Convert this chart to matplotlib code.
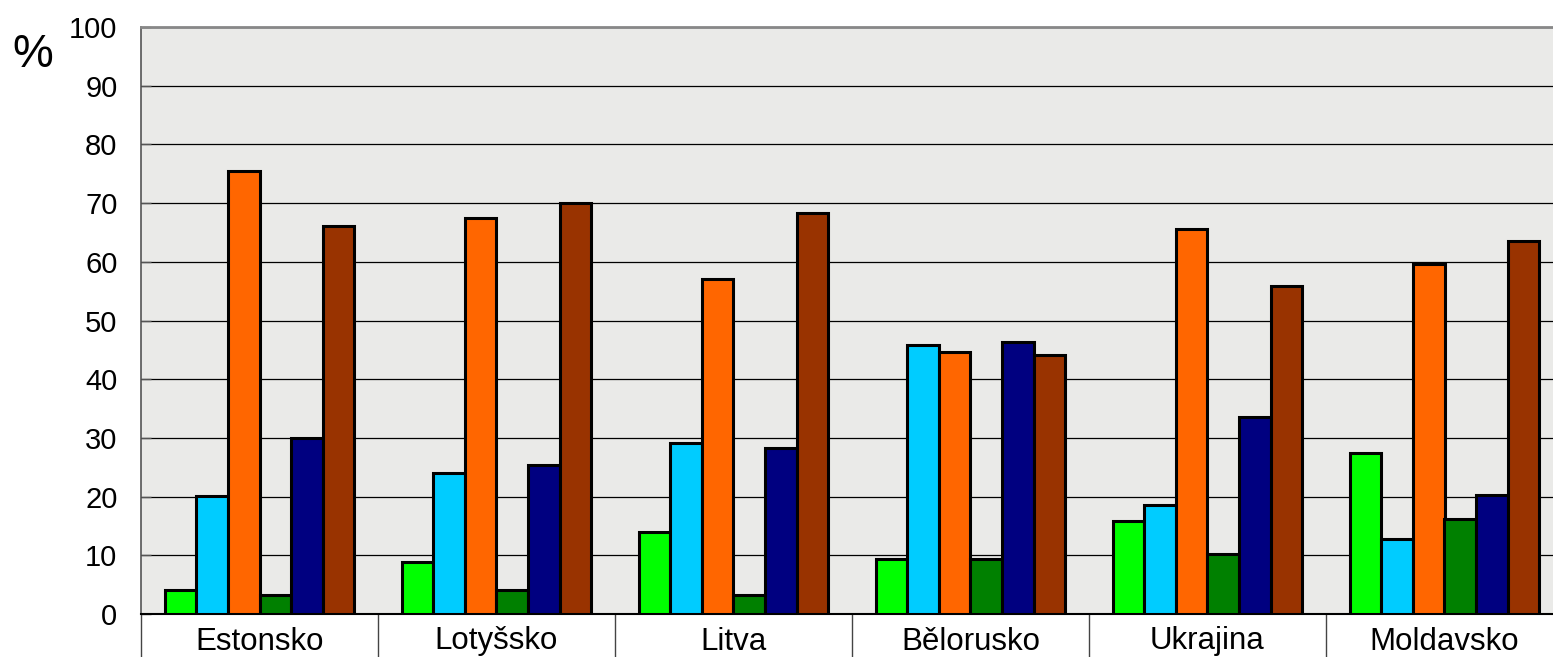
import numpy as np
import matplotlib
matplotlib.use("Agg")
import matplotlib.pyplot as plt

# Data (%)
countries = ["Estonsko", "Lotyšsko", "Litva", "Bělorusko", "Ukrajina", "Moldavsko"]
s1 = [4.1, 8.9, 14.0, 9.3, 15.8, 27.5]      # light green
s2 = [20.1, 24.0, 29.1, 45.9, 18.5, 12.7]   # cyan
s3 = [75.5, 67.4, 57.1, 44.6, 65.6, 59.7]   # orange
s4 = [3.2, 4.1, 3.2, 9.3, 10.2, 16.2]       # dark green
s5 = [30.0, 25.3, 28.3, 46.3, 33.5, 20.2]   # navy
s6 = [66.1, 70.0, 68.3, 44.2, 55.8, 63.5]   # brown
yticks = list(range(0, 101, 10))

series = [s1, s2, s3, s4, s5, s6]
colors = ["#00FF00", "#00CCFF", "#FF6600", "#008000", "#000080", "#993300"]

plt.rcParams["font.family"] = ["Liberation Sans", "DejaVu Sans"]

W, H = 1553, 657
fig = plt.figure(figsize=(W / 100, H / 100), dpi=100)
fig.patch.set_facecolor("white")

left, right, top, bottom = 141, 1563, 27, 614
ax = fig.add_axes([left / W, (H - bottom) / H, (right - left) / W, (bottom - top) / H])
ax.set_facecolor("#eaeae8")

x = np.arange(len(countries))
bw = 0.133
for i, (vals, c) in enumerate(zip(series, colors)):
    ax.bar(x + (i - 2.5) * bw, vals, width=bw, color=c,
           edgecolor="black", linewidth=2.2, zorder=3)

ax.set_xlim(-0.5, len(countries) - 0.5)
ax.set_ylim(0, 100)
ax.set_yticks(yticks)
ax.set_yticklabels([str(t) for t in yticks], fontsize=21)
ax.yaxis.grid(True, color="black", linewidth=0.9, zorder=1)
ax.set_axisbelow(True)
ax.tick_params(axis="y", direction="in", length=7, width=1, color="#555555", pad=17)

# category labels + separators below the axis
ax.set_xticks(x)
ax.set_xticklabels(countries, fontsize=22.5)
ax.set_xticks(np.arange(-0.5, len(countries) + 0.5, 1), minor=True)
ax.tick_params(axis="x", which="major", length=0, pad=9)
ax.tick_params(axis="x", which="minor", direction="out", length=34, width=1, color="#444444")

ax.spines["right"].set_visible(False)
ax.spines["top"].set_color("#888888")
ax.spines["top"].set_linewidth(2)
ax.spines["left"].set_color("#555555")
ax.spines["left"].set_linewidth(1.2)
ax.spines["bottom"].set_color("black")
ax.spines["bottom"].set_linewidth(1.5)

fig.text(33 / W, 1 - 55 / H, "%", fontsize=33, ha="center", va="center")

plt.savefig("out.png", dpi=100)
